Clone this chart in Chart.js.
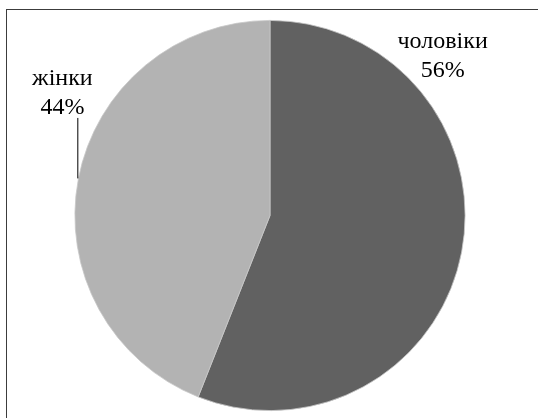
<!DOCTYPE html>
<html>
<head>
<meta charset="utf-8">
<script src="https://cdn.jsdelivr.net/npm/chart.js@4/dist/chart.umd.min.js"></script>
<style>
  html, body { margin: 0; padding: 0; background: #fff; }
  #wrap { position: relative; width: 538px; height: 418px; overflow: hidden; }
  #frame { position: absolute; left: 6px; top: 9px; width: 600px; height: 500px;
           border-left: 1.5px solid #3c3c3c; border-top: 1.5px solid #3c3c3c; box-sizing: border-box; }
  canvas { position: absolute; left: 0; top: 0; }
</style>
</head>
<body>
<div id="wrap">
  <div id="frame"></div>
  <canvas id="pie" width="538" height="418"></canvas>
</div>
<script>
// data
const labels = ['чоловіки', 'жінки'];
const values = [56, 44];
const sliceColors = ['#616161', '#b3b3b3'];

// label spots, as offset from the pie centre in units of radius
const labelSpots = [
  { dx: 0.885, dy: -0.857 },
  { dx: -1.064, dy: -0.667 }
];

const labelFont = '24px "Liberation Serif", "Times New Roman", Times, serif';

const pieLabels = {
  id: 'pieLabels',
  afterDraw(chart) {
    const ctx = chart.ctx;
    const arc = chart.getDatasetMeta(0).data[0];
    const cx = arc.x, cy = arc.y, r = arc.outerRadius;
    ctx.save();
    ctx.fillStyle = '#000';
    ctx.font = labelFont;
    ctx.textAlign = 'center';
    ctx.textBaseline = 'alphabetic';
    labels.forEach((name, i) => {
      const x = cx + labelSpots[i].dx * r;
      const y = cy + labelSpots[i].dy * r;
      ctx.fillText(name, x, y);
      ctx.fillText(values[i] + '%', x, y + 28.5);
    });
    // leader line for the women's label
    ctx.strokeStyle = '#000';
    ctx.lineWidth = 1;
    ctx.beginPath();
    ctx.moveTo(cx - 0.985 * r, cy - 0.5 * r);
    ctx.lineTo(cx - 0.985 * r, cy - 0.19 * r);
    ctx.stroke();
    ctx.restore();
  }
};

function drawPie() {
  new Chart(document.getElementById('pie'), {
    type: 'pie',
    data: {
      labels: labels,
      datasets: [{
        data: values,
        backgroundColor: sliceColors,
        borderColor: '#c8c8c8',
        borderWidth: 0.8
      }]
    },
    options: {
      responsive: false,
      animation: false,
      layout: { padding: { left: 74, right: 72, top: 20, bottom: 7 } },
      plugins: {
        legend: { display: false },
        tooltip: { enabled: false }
      }
    },
    plugins: [pieLabels]
  });
}

document.fonts.load(labelFont, 'жінки').then(drawPie, drawPie);
</script>
</body>
</html>
